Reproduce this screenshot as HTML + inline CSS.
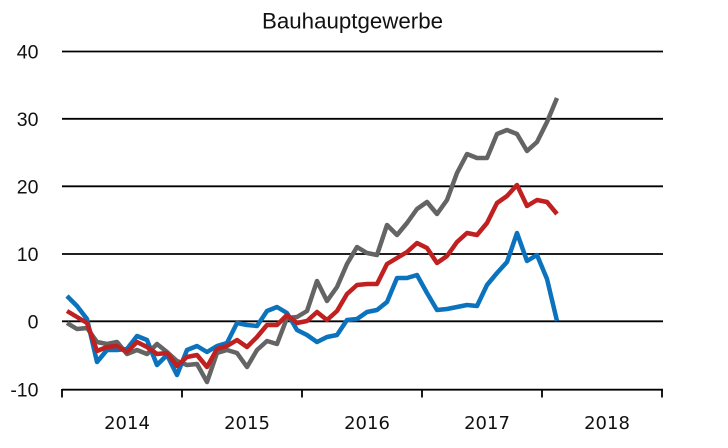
<!DOCTYPE html>
<html>
<head>
<meta charset="utf-8">
<style>
html,body{margin:0;padding:0;background:#fff;}
svg{display:block;}
</style>
</head>
<body>
<svg width="728" height="448" viewBox="0 0 728 448" xmlns="http://www.w3.org/2000/svg">
<rect width="728" height="448" fill="#fff"/>
<text x="262" y="28.5" font-family="Liberation Sans, sans-serif" font-size="22" fill="#111" textLength="181" lengthAdjust="spacingAndGlyphs">Bauhauptgewerbe</text>
<g stroke="#000" stroke-width="1.8">
<line x1="62" y1="51.5" x2="663" y2="51.5"/>
<line x1="62" y1="118.8" x2="663" y2="118.8"/>
<line x1="62" y1="186.3" x2="663" y2="186.3"/>
<line x1="62" y1="254" x2="663" y2="254"/>
<line x1="62" y1="321.3" x2="663" y2="321.3"/>
<line x1="62" y1="389.7" x2="663" y2="389.7"/>
<line x1="62" y1="389" x2="62" y2="397.5"/>
<line x1="182" y1="389" x2="182" y2="397.5"/>
<line x1="302" y1="389" x2="302" y2="397.5"/>
<line x1="422" y1="389" x2="422" y2="397.5"/>
<line x1="542" y1="389" x2="542" y2="397.5"/>
<line x1="662" y1="389" x2="662" y2="397.5"/>
</g>
<g font-family="Liberation Sans, sans-serif" font-size="19.5" fill="#111" text-anchor="end">
<text x="38.5" y="58.5">40</text>
<text x="38.5" y="125.8">30</text>
<text x="38.5" y="193.3">20</text>
<text x="38.5" y="261">10</text>
<text x="38.5" y="328.3">0</text>
<text x="38.5" y="396.7">-10</text>
</g>
<g font-family="DejaVu Sans, sans-serif" font-size="18" fill="#111" text-anchor="middle">
<text x="127" y="429">2014</text>
<text x="247" y="429">2015</text>
<text x="367" y="429">2016</text>
<text x="487" y="429">2017</text>
<text x="607" y="429">2018</text>
</g>
<g fill="none" stroke-width="4.5" stroke-linejoin="round" stroke-linecap="butt">
<polyline stroke="#646464" points="67,323 77,329 87,328 97,342 107,344 117,342 127,354 137,350 147,354 157,344 167,352 177,361 187,365 197,364 207,382 217,353 227,350 237,353 247,367 257,350 267,341 277,344 287,318 297,317 307,311 317,281 327,301 337,287 347,264 357,247 367,253 377,255 387,225 397,235 407,223 417,209 427,202 437,214 447,200 457,173 467,154 477,158 487,158 497,134 507,130 517,134 527,151 537,142 547,122 557,98"/>
<polyline stroke="#0b72bd" points="67,296 77,306 87,319 97,362 107,350 117,350 127,349 137,336 147,340 157,365 167,355 177,375 187,350 197,346 207,352 217,346 227,343 237,323 247,325 257,326 267,311 277,307 287,313 297,330 307,335 317,342 327,337 337,335 347,320 357,319 367,312 377,310 387,302 397,278 407,278 417,275 427,293 437,310 447,309 457,307 467,305 477,306 487,285 497,273 507,262 517,233 527,261 537,255 547,279 557,321"/>
<polyline stroke="#c0201f" points="67,311 77,317 87,323 97,351 107,347 117,346 127,352 137,342 147,347 157,354 167,353 177,366 187,357 197,355 207,367 217,349 227,346 237,340 247,347 257,337 267,325 277,325 287,315 297,323 307,321 317,312 327,320 337,311 347,294 357,285 367,284 377,284 387,264 397,258 407,252 417,243 427,248 437,263 447,256 457,242 467,233 477,235 487,223 497,203 507,196 517,185 527,206 537,200 547,202 557,214"/>
</g>
</svg>
</body>
</html>
